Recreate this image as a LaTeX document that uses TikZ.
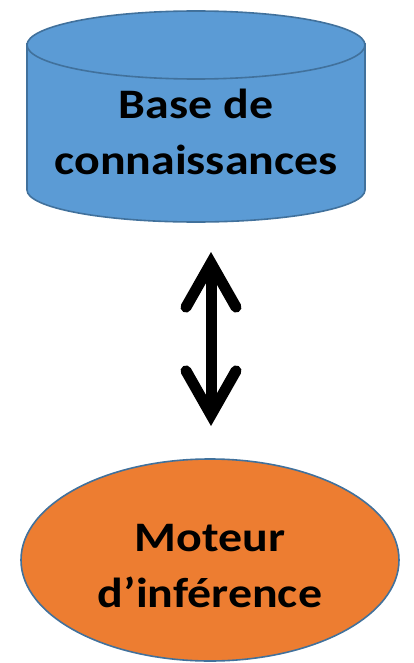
\documentclass[tikz,border=0pt]{standalone}
\usepackage{fontspec}
\setmainfont{Carlito}
\usetikzlibrary{arrows.meta}
\definecolor{dbblue}{HTML}{5B9BD5}
\definecolor{rimblue}{HTML}{41719C}
\definecolor{engorange}{HTML}{ED7D31}
% slightly widened bold lettering
\newcommand{\wide}[1]{\scalebox{1.14}[1]{#1}}
\begin{document}
\begin{tikzpicture}[x=1pt, y=-1pt,
  shapeline/.style={draw=rimblue, line width=1.6pt},
  label/.style={font=\bfseries\fontsize{42}{56}\selectfont, align=center, anchor=base, inner sep=0pt},
  barb/.tip={Straight Barb[length=44pt, width=50pt, line cap=round, line join=miter]},
  link/.style={line width=11pt, {barb}-{barb}}
]
\useasboundingbox (0,0) rectangle (413,663);

% knowledge base: cylinder body, then its top face
\path[fill=dbblue, shapeline] (27,44) -- (27,190)
  arc[start angle=180, end angle=0, x radius=169, y radius=32] -- (365,44) -- cycle;
\path[fill=dbblue, shapeline] (196,45) ellipse[x radius=169, y radius=34];
\node[label] (db) at (196,175) {\wide{Base de}\\\wide{connaissances}};

% inference engine
\path[fill=engorange, shapeline] (210,560) ellipse[x radius=189, y radius=101];
\node[label] (engine) at (210,607) {\wide{Moteur}\\\wide{d’inférence}};

% two-way link between the base and the engine
\coordinate (linktop) at (211,252);
\coordinate (linkbot) at (211,426);
\draw[link] (linktop) -- (linkbot);
\end{tikzpicture}
\end{document}
